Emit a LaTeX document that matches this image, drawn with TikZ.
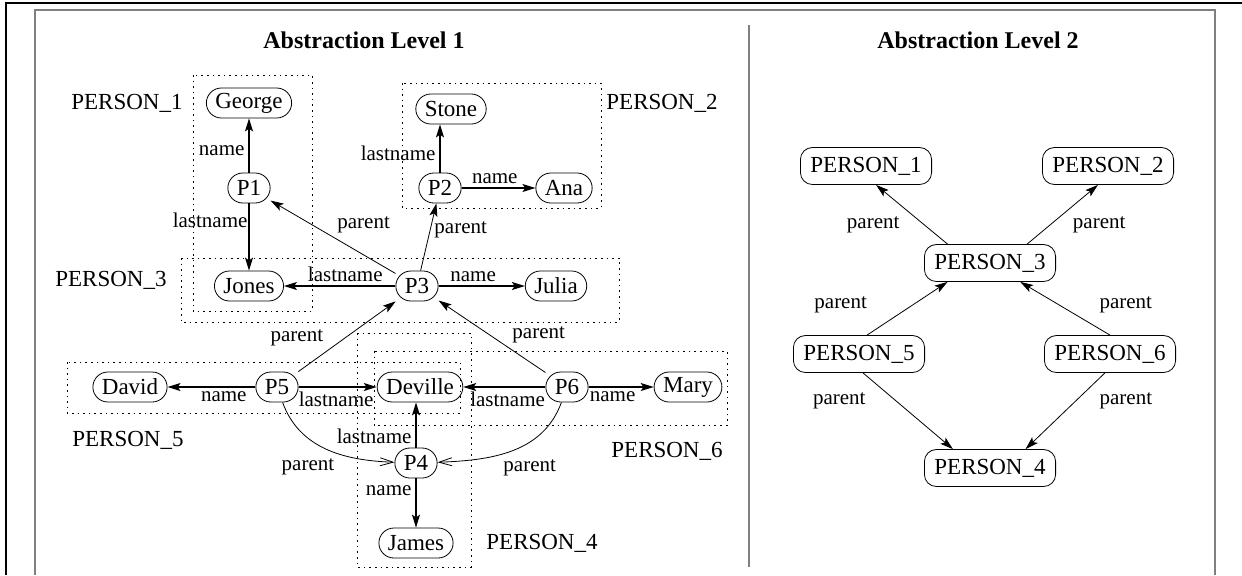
\documentclass[tikz,border=0pt]{standalone}
\usepackage{fontspec}
\setmainfont{Liberation Serif}
\usetikzlibrary{arrows.meta, positioning}

\tikzset{
  val/.style={draw, rounded corners=7.5pt, minimum height=15pt, inner xsep=4.5pt, inner ysep=1pt, font=\fontsize{11.5}{13}\selectfont},
  cls/.style={draw, rounded corners=6pt, minimum height=18.5pt, minimum width=65.5pt, inner xsep=5pt, font=\fontsize{11.5}{13}\selectfont},
  grp/.style={dash pattern=on 0.8pt off 2pt, line width=0.5pt},
  lbl/.style={font=\fontsize{11.5}{13}\selectfont},
  title/.style={font=\fontsize{12}{14}\selectfont\bfseries},
  rel/.style={-{Stealth[length=6.5pt,width=4pt,inset=1.4pt]}, line width=0.6pt},
  par/.style={-{Stealth[length=6.5pt,width=4pt,inset=1.4pt]}, line width=0.4pt},
  bent/.style={-{Straight Barb[length=6.5pt,width=4pt]}, line width=0.4pt},
}

\begin{document}
\begin{tikzpicture}[x=0.5pt, y=0.5pt, on grid, inner sep=2pt, font=\fontsize{10.5}{12}\selectfont]
    \useasboundingbox (0,0) rectangle (1242,-575);

    % frames
    \draw[line width=1.2pt] (6,-575) -- (6,-3) -- (1242,-3);
    \draw[gray, line width=0.7pt] (35,-575) -- (35,-10) -- (1215,-10) -- (1215,-575);
    \draw[gray, line width=0.7pt] (749,-25) -- (749,-567);

    \node[title] (t_1) at (364,-40) {Abstraction Level 1};
    \node[title] (t_2) at (978,-40) {Abstraction Level 2};

    % level 1
    \node[val] (george) at (249,-103) {George};
    \node[val] (p_1) [below=42.5pt of george] {P1};
    \node[val] (jones) [below=49pt of p_1] {Jones};
    \node[val] (stone) at (451,-109) {Stone};
    \node[val] (p_2) at (440,-188) {P2};
    \node[val] (ana) [right=62pt of p_2] {Ana};
    \node[val] (p_3) at (417,-286) {P3};
    \node[val] (julia) [right=69.5pt of p_3] {Julia};
    \node[val] (deville) at (420,-387) {Deville};
    \node[val] (p_5) [left=71.5pt of deville] {P5};
    \node[val] (david) [left=73.5pt of p_5] {David};
    \node[val] (p_6) [right=73.5pt of deville] {P6};
    \node[val] (mary) [right=60.5pt of p_6] {Mary};
    \node[val] (p_4) at (416,-463) {P4};
    \node[val] (james) [below=40pt of p_4] {James};

    \draw[grp] (193,-75) rectangle (312,-311);
    \draw[grp] (181,-258) rectangle (619,-322);
    \draw[grp] (402,-83) rectangle (601,-208);
    \draw[grp] (67,-362) rectangle (460,-413);
    \draw[grp] (374,-351) rectangle (727,-425);
    \draw[grp] (357,-333) rectangle (471,-567);

    \node[lbl] (n_1) at (127,-103) {PERSON\_1};
    \node[lbl] (n_2) at (662,-103) {PERSON\_2};
    \node[lbl] (n_3) at (111,-280) {PERSON\_3};
    \node[lbl] (n_5) at (128,-440) {PERSON\_5};
    \node[lbl] (n_6) at (667,-451) {PERSON\_6};
    \node[lbl] (n_4) at (542,-543) {PERSON\_4};

    \path[rel]
    (p_1) edge node[left, pos=0.4] {name} (p_1 |- george.south)
    (p_1) edge node[left, pos=0.25, inner sep=0.5pt] {lastname} (p_1 |- jones.north)
    (p_2) edge node[left, pos=0.4] {lastname} (p_2 |- stone.south)
    (p_2) edge node[above, pos=0.45] {name} (ana)
    (p_3) edge node[above, pos=0.45] {lastname} (jones)
    (p_3) edge node[above, pos=0.4] {name} (julia)
    (p_5) edge node[below, pos=0.36] {name} (david)
    (p_5) edge node[below, pos=0.48] {lastname} (deville)
    (p_6) edge node[below, pos=0.46] {lastname} (deville)
    (p_6) edge node[below, pos=0.37] {name} (mary)
    (p_4) edge node[left, pos=0.26] {lastname} (p_4 |- deville.south)
    (p_4) edge node[left, pos=0.24] {name} (james);

    \path[par]
    (p_3) edge node[above right, pos=0.5] {parent} (p_1)
    (p_3) edge node[right, pos=0.6] {parent} (p_2)
    (p_5) edge node[above left, pos=0.3] {parent} (p_3)
    (p_6) edge node[above right, pos=0.35] {parent} (p_3);

    \path[bent]
    (p_5) edge[out=-70, in=178] node[below left, pos=0.6] {parent} (p_4)
    (p_6) edge[out=-110, in=2] node[below right, pos=0.6] {parent} (p_4);

    % level 2
    \node[cls] (pr_1) at (866,-166) {PERSON\_1};
    \node[cls] (pr_2) at (1108,-166) {PERSON\_2};
    \node[cls] (pr_3) at (990,-263) {PERSON\_3};
    \node[cls] (pr_5) at (859,-354) {PERSON\_5};
    \node[cls] (pr_6) at (1110,-354) {PERSON\_6};
    \node[cls] (pr_4) at (990,-468) {PERSON\_4};

    \path[par]
    (pr_3.156) edge node[left=4pt, yshift=-5pt] {parent} (pr_1.298)
    (pr_3.27) edge node[right=3pt, yshift=-5pt] {parent} (pr_2.242)
    (pr_5.67) edge node[left=18pt, yshift=2pt] {parent} (pr_3.204)
    (pr_6.90) edge node[right=15pt, yshift=2pt] {parent} (pr_3.328)
    (pr_5.282) edge node[left=19pt, yshift=5pt] {parent} (pr_4.153)
    (pr_6.255) edge node[right=15pt, yshift=5pt] {parent} (pr_4.28);
\end{tikzpicture}
\end{document}
